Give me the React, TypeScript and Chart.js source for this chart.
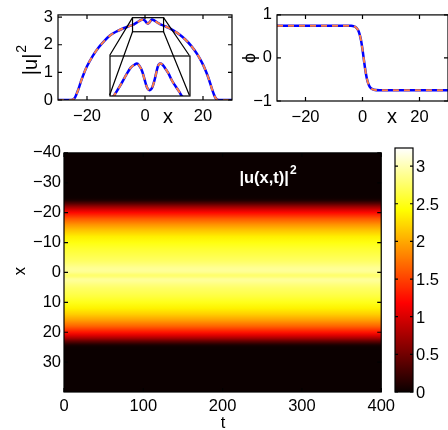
import { useEffect, useRef, useState } from "react";
import { Chart, registerables } from "chart.js";

Chart.register(...registerables);

const FONT = "'Liberation Sans', Arial, Helvetica, sans-serif";

// Density profile |u|^2 along x
const X_U = [
  -30, -26, -25, -24.5, -24, -23, -22, -21, -20, -18, -16, -14, -12, -10, -8, -6, -5, -4, -3.8, -3,
  -2, -1.5, -1, -0.7, -0.4, 0, 0.3, 0.6, 0.8, 1.0, 1.2, 1.4, 1.7, 2.1, 2.4, 2.7, 3.0, 3.5, 4, 5,
  5.3, 6, 7, 8, 10, 12, 14, 16, 18, 20, 21, 22, 23, 24, 24.5, 25, 26, 30,
];
const U2 = [
  0, 0, 0.01, 0.04, 0.12, 0.38, 0.7, 0.98, 1.22, 1.6, 1.9, 2.14, 2.34, 2.47, 2.57, 2.65, 2.69, 2.73, 2.74, 2.79,
  2.86, 2.89, 2.905, 2.91, 2.9, 2.87, 2.83, 2.79, 2.775, 2.77, 2.775, 2.79, 2.83, 2.895, 2.91, 2.905, 2.89, 2.86, 2.82, 2.76,
  2.74, 2.71, 2.67, 2.62, 2.5, 2.36, 2.18, 1.95, 1.66, 1.28, 1.04, 0.76, 0.43, 0.14, 0.05, 0.01, 0, 0,
];

// Phase profile phi along x
const X_PHI = [-30, -6, -4, -3, -2.5, -2, -1.5, -1, -0.5, 0, 0.4, 1, 1.5, 2, 2.5, 3, 4, 6, 30];
const PHI = [
  0.75, 0.75, 0.746, 0.734, 0.719, 0.691, 0.64, 0.549, 0.403, 0.196, 0, -0.285, -0.469, -0.591, -0.664,
  -0.704, -0.738, -0.749, -0.75,
];

// Axis ranges and ticks
const X_RANGE = [-30, 30];
const U_RANGE = [0, 3.08];
const PHI_RANGE = [-1, 1];
const X_TICKS = [-20, 0, 20];
const U_TICKS = [0, 1, 2, 3];
const PHI_TICKS = [-1, 0, 1];
const T_RANGE = [0, 400];
const T_TICKS = [0, 100, 200, 300, 400];
const MAP_X_RANGE = [-40, 40];
const MAP_X_TICKS = [-40, -30, -20, -10, 0, 10, 20, 30];
const C_RANGE = [0, 3.24];
const CBAR_TICKS = [0, 0.5, 1, 1.5, 2, 2.5, 3];

// Magnified window on the profile top and where its enlargement sits
const ZOOM_WIN = { x0: -4.3, x1: 6.4, y0: 2.47, y1: 2.98 };
const INSET_BOX = { x0: -12.2, x1: 15.3, y0: 0.17, y1: 1.61 };
const INSET_Y = [2.74, 2.95];

const BLUE = "#0000FF";
const ORANGE = "#FF8040";
const TICK_SIZE = 16.5;
const TICK_FONT = { family: FONT, size: TICK_SIZE };

const fmt = (v: number) => (v < 0 ? "\u2212" : "") + String(Math.abs(v));

// MATLAB-style "hot" colormap
function hot(t: number) {
  const c = Math.max(0, Math.min(1, t));
  const idx = c * 63 + 1;
  const r = Math.min(1, idx / 24);
  const g = Math.max(0, Math.min(1, (idx - 24) / 24));
  const b = Math.max(0, Math.min(1, (idx - 48) / 16));
  return `rgb(${Math.round(r * 255)},${Math.round(g * 255)},${Math.round(b * 255)})`;
}

function axis(range: number[], ticks: number[], extra: any = {}, padding = 3) {
  return {
    type: "linear",
    min: range[0],
    max: range[1],
    afterBuildTicks: (s: any) => {
      s.ticks = ticks.map((v) => ({ value: v }));
    },
    ticks: {
      callback: (v: any) => fmt(Number(v)),
      font: TICK_FONT,
      color: "#000",
      padding,
      maxRotation: 0,
      minRotation: 0,
      autoSkip: false,
    },
    grid: { display: false, drawTicks: false },
    border: { display: false },
    ...extra,
  };
}

// Box around the plot area with inward tick marks on all sides
function makeFrame(scaleIds: string[], tickLen = 4) {
  return {
    id: "frame",
    afterDraw(chart: any) {
      const { ctx, chartArea: a } = chart;
      ctx.save();
      ctx.strokeStyle = "#000";
      ctx.lineWidth = 1.2;
      ctx.beginPath();
      for (const id of scaleIds) {
        const s = chart.scales[id];
        for (const t of s.ticks) {
          const p = s.getPixelForValue(t.value);
          if (s.isHorizontal()) {
            ctx.moveTo(p, a.bottom);
            ctx.lineTo(p, a.bottom - tickLen);
            ctx.moveTo(p, a.top);
            ctx.lineTo(p, a.top + tickLen);
          } else {
            ctx.moveTo(a.left, p);
            ctx.lineTo(a.left + tickLen, p);
            ctx.moveTo(a.right, p);
            ctx.lineTo(a.right - tickLen, p);
          }
        }
      }
      ctx.stroke();
      ctx.strokeRect(a.left, a.top, a.right - a.left, a.bottom - a.top);
      ctx.restore();
    },
  };
}

type Lbl = {
  text: string;
  x: number;
  y: number;
  size: number;
  rot?: boolean;
  bold?: boolean;
  color?: string;
  sup?: string;
};

// Axis titles and annotations
function makeLabels(items: Lbl[]) {
  return {
    id: "labels",
    afterDraw(chart: any) {
      const ctx = chart.ctx;
      for (const l of items) {
        ctx.save();
        ctx.translate(l.x, l.y);
        if (l.rot) ctx.rotate(-Math.PI / 2);
        ctx.fillStyle = l.color || "#000";
        ctx.textBaseline = "middle";
        ctx.textAlign = "left";
        const f = `${l.bold ? "bold " : ""}${l.size}px ${FONT}`;
        const fs = `${l.bold ? "bold " : ""}${Math.round(l.size * 0.72)}px ${FONT}`;
        ctx.font = f;
        const w1 = ctx.measureText(l.text).width;
        let w2 = 0;
        if (l.sup) {
          ctx.font = fs;
          w2 = ctx.measureText(l.sup).width + 1;
        }
        const x0 = -(w1 + w2) / 2;
        ctx.font = f;
        ctx.fillText(l.text, x0, 0);
        if (l.sup) {
          ctx.font = fs;
          ctx.fillText(l.sup, x0 + w1 + 1, -l.size * 0.45);
        }
        ctx.restore();
      }
    },
  };
}

// Magnification window and connector lines on the profile plot
const zoomPlugin = {
  id: "zoomwin",
  afterDatasetsDraw(chart: any) {
    const { ctx, scales } = chart;
    const X = (v: number) => scales.x.getPixelForValue(v);
    const Y = (v: number) => scales.y.getPixelForValue(v);
    ctx.save();
    ctx.strokeStyle = "#000";
    ctx.lineWidth = 1.2;
    ctx.strokeRect(X(ZOOM_WIN.x0), Y(ZOOM_WIN.y1), X(ZOOM_WIN.x1) - X(ZOOM_WIN.x0), Y(ZOOM_WIN.y0) - Y(ZOOM_WIN.y1));
    ctx.beginPath();
    const pairs = [
      [ZOOM_WIN.x0, ZOOM_WIN.y1, INSET_BOX.x0, INSET_BOX.y1],
      [ZOOM_WIN.x0, ZOOM_WIN.y0, INSET_BOX.x0, INSET_BOX.y0],
      [ZOOM_WIN.x1, ZOOM_WIN.y1, INSET_BOX.x1, INSET_BOX.y1],
      [ZOOM_WIN.x1, ZOOM_WIN.y0, INSET_BOX.x1, INSET_BOX.y0],
    ];
    for (const [a, b, c, d] of pairs) {
      ctx.moveTo(X(a), Y(b));
      ctx.lineTo(X(c), Y(d));
    }
    ctx.stroke();
    ctx.restore();
  },
};

// Density map |u(x,t)|^2 (profile constant in t)
const heatPlugin = {
  id: "heat",
  beforeDatasetsDraw(chart: any) {
    const { ctx, scales } = chart;
    const top = scales.y.getPixelForValue(MAP_X_RANGE[0]);
    const bot = scales.y.getPixelForValue(MAP_X_RANGE[1]);
    const g = ctx.createLinearGradient(0, top, 0, bot);
    X_U.forEach((xv, i) => {
      g.addColorStop((scales.y.getPixelForValue(xv) - top) / (bot - top), hot(U2[i] / C_RANGE[1]));
    });
    const l = scales.x.getPixelForValue(T_RANGE[0]);
    const r = scales.x.getPixelForValue(T_RANGE[1]);
    ctx.save();
    ctx.fillStyle = g;
    ctx.fillRect(l, top, r - l, bot - top);
    ctx.restore();
  },
};

// Colour scale strip, positioned by its hidden colour-value scale
const cbarPlugin = {
  id: "cbar",
  afterDraw(chart: any) {
    const { ctx, scales, chartArea: a } = chart;
    const c = scales.y;
    const y0 = c.getPixelForValue(C_RANGE[0]);
    const y1 = c.getPixelForValue(C_RANGE[1]);
    const cl = a.left;
    const cr = a.right;
    ctx.save();
    const cg = ctx.createLinearGradient(0, y0, 0, y1);
    for (let k = 0; k <= 63; k++) cg.addColorStop(k / 63, hot(k / 63));
    ctx.fillStyle = cg;
    ctx.fillRect(cl, y1, cr - cl, y0 - y1);
    ctx.strokeStyle = "#000";
    ctx.lineWidth = 1.2;
    ctx.beginPath();
    for (const v of CBAR_TICKS) {
      const p = c.getPixelForValue(v);
      ctx.moveTo(cl, p);
      ctx.lineTo(cl + 3, p);
      ctx.moveTo(cr, p);
      ctx.lineTo(cr - 3, p);
    }
    ctx.stroke();
    ctx.strokeRect(cl, y1, cr - cl, y0 - y1);
    ctx.restore();
  },
};

function lineSets(xs: number[], ys: number[]) {
  const data = xs.map((x, i) => ({ x, y: ys[i] }));
  return [
    {
      data,
      borderColor: ORANGE,
      borderWidth: 2,
      borderDash: [6, 5],
      pointRadius: 0,
      showLine: true,
      cubicInterpolationMode: "monotone",
      order: 1,
    },
    {
      data,
      borderColor: BLUE,
      borderWidth: 2.5,
      pointRadius: 0,
      showLine: true,
      cubicInterpolationMode: "monotone",
      order: 2,
    },
  ];
}

const base = {
  responsive: false,
  animation: false,
  devicePixelRatio: 1,
  events: [],
};

const noChrome = { legend: { display: false }, tooltip: { enabled: false }, title: { display: false } };

const MAP_TOP = 140;
const CB_LEFT = 390;

export default function App() {
  const uRef = useRef<HTMLCanvasElement>(null);
  const insetRef = useRef<HTMLCanvasElement>(null);
  const phiRef = useRef<HTMLCanvasElement>(null);
  const mapRef = useRef<HTMLCanvasElement>(null);
  const cbRef = useRef<HTMLCanvasElement>(null);
  const [cbLabels, setCbLabels] = useState<{ text: string; top: number; left: number }[]>([]);

  useEffect(() => {
    Chart.defaults.font.family = FONT;
    Chart.defaults.color = "#000";
    const charts: Chart[] = [];

    const uChart = new Chart(uRef.current!, {
      type: "scatter",
      data: { datasets: lineSets(X_U, U2) as any },
      options: {
        ...base,
        layout: { padding: { top: 13, right: 8, left: 0, bottom: 0 } },
        scales: {
          x: axis(X_RANGE, X_TICKS, { afterFit: (s: any) => (s.height = 32) }, 7),
          y: axis(U_RANGE, U_TICKS, { afterFit: (s: any) => (s.width = 58) }, 5),
        },
        plugins: noChrome,
      } as any,
      plugins: [
        makeFrame(["x", "y"]),
        makeLabels([
          { text: "x", x: 168, y: 117, size: 20 },
          { text: "|u|", x: 31, y: 60, size: 20, rot: true, sup: "2" },
        ]),
        zoomPlugin,
      ],
    });
    charts.push(uChart);

    // Enlarged view of the profile top, placed over the inset box
    const sx = uChart.scales.x;
    const sy = uChart.scales.y;
    const bl = sx.getPixelForValue(INSET_BOX.x0);
    const br = sx.getPixelForValue(INSET_BOX.x1);
    const bt = sy.getPixelForValue(INSET_BOX.y1);
    const bb = sy.getPixelForValue(INSET_BOX.y0);
    const ic = insetRef.current!;
    ic.width = Math.round(br - bl) + 4;
    ic.height = Math.round(bb - bt) + 4;
    ic.style.left = `${Math.round(bl) - 2}px`;
    ic.style.top = `${Math.round(bt) - 2}px`;
    charts.push(
      new Chart(ic, {
        type: "scatter",
        data: { datasets: lineSets(X_U, U2) as any },
        options: {
          ...base,
          layout: { padding: 2 },
          scales: {
            x: { type: "linear", display: false, min: ZOOM_WIN.x0, max: ZOOM_WIN.x1 },
            y: { type: "linear", display: false, min: INSET_Y[0], max: INSET_Y[1] },
          },
          plugins: noChrome,
        } as any,
        plugins: [makeFrame([])],
      })
    );

    charts.push(
      new Chart(phiRef.current!, {
        type: "scatter",
        data: { datasets: lineSets(X_PHI, PHI) as any },
        options: {
          ...base,
          layout: { padding: { top: 13, right: 0, left: 0, bottom: 0 } },
          scales: {
            x: axis(X_RANGE, X_TICKS, { afterFit: (s: any) => (s.height = 32) }, 7),
            y: axis(PHI_RANGE, PHI_TICKS, { afterFit: (s: any) => (s.width = 37) }, 5),
          },
          plugins: noChrome,
        } as any,
        plugins: [
          makeFrame(["x", "y"]),
          makeLabels([
            { text: "x", x: 152, y: 117, size: 20 },
            { text: "\u03D5", x: 10, y: 58, size: 18, rot: true },
          ]),
        ],
      })
    );

    charts.push(
      new Chart(mapRef.current!, {
        type: "scatter",
        data: { datasets: [] },
        options: {
          ...base,
          layout: { padding: { top: 8, right: 18, left: 0, bottom: 0 } },
          scales: {
            x: axis(T_RANGE, T_TICKS, { afterFit: (s: any) => (s.height = 38) }, 5),
            y: axis(MAP_X_RANGE, MAP_X_TICKS, { reverse: true, afterFit: (s: any) => (s.width = 64) }, 3),
          },
          plugins: noChrome,
        } as any,
        plugins: [
          heatPlugin,
          makeFrame(["x", "y"]),
          makeLabels([
            { text: "x", x: 20, y: 131, size: 16.5, rot: true },
            { text: "t", x: 223, y: 283, size: 16.5 },
            { text: "|u(x,t)|", x: 268, y: 38, size: 16.5, bold: true, color: "#fff", sup: "2" },
          ]),
        ],
      })
    );

    const cbChart = new Chart(cbRef.current!, {
      type: "scatter",
      data: { datasets: [] },
      options: {
        ...base,
        layout: { padding: { top: 8, right: 3, left: 5, bottom: 38 } },
        scales: {
          x: { type: "linear", display: false },
          y: { type: "linear", display: false, min: C_RANGE[0], max: C_RANGE[1] },
        },
        plugins: noChrome,
      } as any,
      plugins: [cbarPlugin],
    });
    charts.push(cbChart);

    // Colour-scale tick labels placed from the colour-value scale
    const cs = cbChart.scales.y;
    const right = CB_LEFT + cbChart.chartArea.right + 3;
    setCbLabels(CBAR_TICKS.map((v) => ({ text: fmt(v), top: MAP_TOP + cs.getPixelForValue(v), left: right })));

    return () => charts.forEach((c) => c.destroy());
  }, []);

  return (
    <div
      style={{
        position: "fixed",
        left: 0,
        top: 0,
        width: 448,
        height: 430,
        background: "#fff",
        overflow: "hidden",
      }}
    >
      <canvas ref={uRef} width={240} height={132} style={{ position: "absolute", left: 0, top: 0 }} />
      <canvas ref={insetRef} style={{ position: "absolute" }} />
      <canvas ref={phiRef} width={208} height={133} style={{ position: "absolute", left: 240, top: 0 }} />
      <canvas ref={mapRef} width={400} height={290} style={{ position: "absolute", left: 0, top: MAP_TOP }} />
      <canvas ref={cbRef} width={26} height={290} style={{ position: "absolute", left: CB_LEFT, top: MAP_TOP }} />
      {cbLabels.map((l) => (
        <span
          key={l.text}
          style={{
            position: "absolute",
            left: l.left,
            top: l.top,
            transform: "translateY(-50%)",
            fontFamily: FONT,
            fontSize: TICK_SIZE,
            lineHeight: 1,
            color: "#000",
            whiteSpace: "nowrap",
          }}
        >
          {l.text}
        </span>
      ))}
    </div>
  );
}
